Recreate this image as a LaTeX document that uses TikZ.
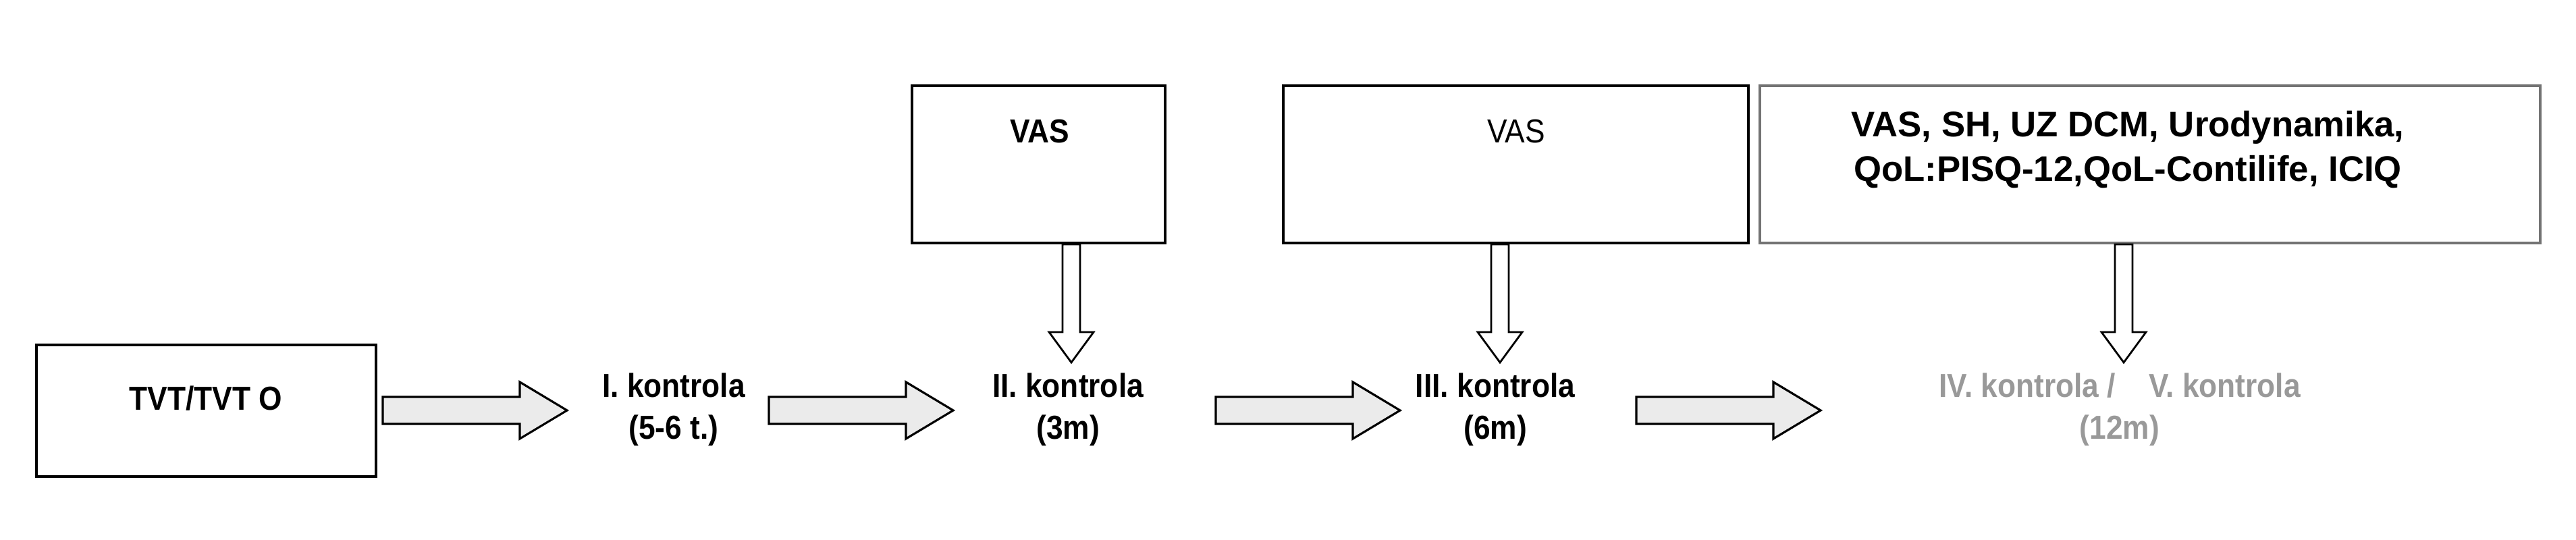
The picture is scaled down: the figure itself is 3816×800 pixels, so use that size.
\documentclass[tikz,border=0pt]{standalone}
\usepackage{fontspec}
\setmainfont{Liberation Sans}[FakeStretch=0.9]
\newfontfamily\widefont{Liberation Sans}
\usetikzlibrary{calc}
\definecolor{lightgrey}{gray}{0.92}
\definecolor{labelgrey}{gray}{0.6}
\definecolor{framegrey}{gray}{0.45}
\tikzset{
  box/.style={draw, line width=1.2pt, inner sep=0pt},
  lbl/.style={font=\fontsize{14}{17.5}\selectfont\bfseries, align=center, inner sep=0pt},
  fat/.style={draw, fill=lightgrey, line width=0.9pt},
  down/.style={draw, fill=white, line width=0.8pt}
}
% horizontal block arrow: x from, x to, y
\newcommand\fatarrow[3]{
  \draw[fat] (#1,#3-20) -- (#2-70,#3-20) -- (#2-70,#3-42) -- (#2,#3)
    -- (#2-70,#3+42) -- (#2-70,#3+20) -- (#1,#3+20) -- cycle;
}
% vertical hollow arrow: x, y from, y to
\newcommand\dnarrow[3]{
  \draw[down] (#1-13,#2) -- (#1-13,#3-45) -- (#1-33,#3-45) -- (#1,#3)
    -- (#1+33,#3-45) -- (#1+13,#3-45) -- (#1+13,#2) -- cycle;
}
\begin{document}
\begin{tikzpicture}[x=0.1mm,y=-0.1mm]
  \useasboundingbox (0,0) rectangle (3816,800);

  %boxes
  \draw[box] (54,511) rectangle (557,706);
  \node[lbl] (tvt) at (305,590) {TVT/TVT O};
  \draw[box] (1351,127) rectangle (1726,360);
  \node[lbl] (vasA) at (1540,195) {VAS};
  \draw[box] (1901,127) rectangle (2590,360);
  \node[lbl, font=\fontsize{14}{17.5}\selectfont] (vasB) at (2246,195) {VAS};
  \draw[box, framegrey] (2607,127) rectangle (3763,360);
  \node[lbl, font=\widefont\fontsize{15}{18.8}\selectfont\bfseries] (tests) at (3152,222)
    {VAS, SH, UZ DCM, Urodynamika,\\QoL:PISQ-12,QoL-Contilife, ICIQ};

  %controls
  \node[lbl] (k1) at (998,607) {I. kontrola\\(5-6 t.)};
  \node[lbl] (k2) at (1582,607) {II. kontrola\\(3m)};
  \node[lbl] (k3) at (2215,607) {III. kontrola\\(6m)};
  \node[lbl, labelgrey] (k4) at (3140,607) {IV. kontrola /\quad V. kontrola\\(12m)};

  %arrows
  \fatarrow{567}{840}{608}
  \fatarrow{1139}{1412}{608}
  \fatarrow{1801}{2074}{608}
  \fatarrow{2424}{2697}{608}
  \dnarrow{1587}{362}{537}
  \dnarrow{2222}{362}{537}
  \dnarrow{3146}{362}{537}
\end{tikzpicture}
\end{document}
